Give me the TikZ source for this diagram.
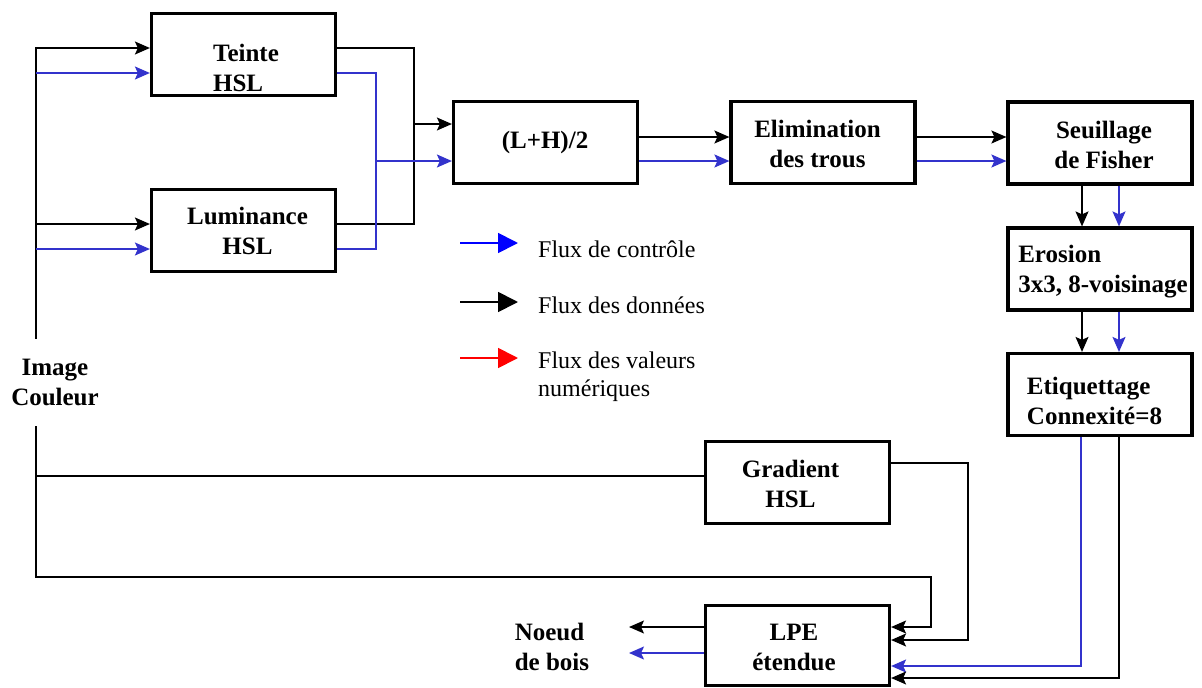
\documentclass[tikz,border=0pt]{standalone}
\usepackage{fontspec}
\setmainfont{Liberation Serif}
\usetikzlibrary{arrows.meta}
\definecolor{cblue}{RGB}{51,51,204}
\begin{document}
\begin{tikzpicture}[x=1pt,y=-1pt,
  box/.style={draw, line width=3.2pt, minimum width=184pt, minimum height=82pt, inner sep=0pt},
  btxt/.style={font=\bfseries\fontsize{25}{30}\selectfont, inner sep=0pt, align=center},
  ltxt/.style={font=\fontsize{24}{28}\selectfont, inner sep=0pt, align=left},
  dline/.style={line width=1.3pt, black},
  cline/.style={line width=1.5pt, cblue},
  dflow/.style={dline, -{Stealth[length=15pt,width=13pt,inset=3pt]}},
  cflow/.style={cline, -{Stealth[length=15pt,width=13pt,inset=3pt]}},
  leg/.style={line width=1.8pt, -{Triangle[length=20pt,width=20pt]}}
]
\useasboundingbox (0,0) rectangle (1202,688);
\coordinate (bus) at (36,0);

% boxes
\node[box] (teinte) at (243.5,54.5) {};
\node[box] (lumin)  at (243.5,230.5) {};
\node[box] (lh)     at (545.5,142.5) {};
\node[box] (elim)   at (823,142.5) {};
\node[box] (seuil)  at (1100,143) {};
\node[box] (eros)   at (1100,269) {};
\node[box] (etiq)   at (1100,394.5) {};
\node[box] (grad)   at (797.5,482.5) {};
\node[box, minimum height=80pt] (lpe) at (797.5,645.5) {};

% box texts
\node[btxt, align=left] (teinteT) at (246,67.5) {Teinte\\HSL};
\node[btxt] (luminT) at (247.5,231) {Luminance\\HSL};
\node[btxt] (lhT) at (545,142) {(L+H)/2};
\node[btxt] (elimT) at (817.5,143.5) {Elimination\\des trous};
\node[btxt] (seuilT) at (1104,144.5) {Seuillage\\de Fisher};
\node[btxt, align=left] (erosT) at (1103,271.5) {Erosion\\3x3, 8-voisinage};
\node[btxt, align=left] (etiqT) at (1094.5,400.5) {Etiquettage\\Connexité=8};
\node[btxt] (gradT) at (790.5,483.5) {Gradient\\HSL};
\node[btxt] (lpeT) at (794,647.5) {LPE\\étendue};

% free labels
\node[btxt, minimum height=87pt] (img) at (55,382.5) {Image\\Couleur};
\node[btxt, align=left] (noeud) at (552,646.5) {Noeud\\de bois};
\coordinate (outA) at (629,627);
\coordinate (outB) at (629,653);

% inputs from the image
\draw[dflow] (img.north -| bus) -- (bus |- 0,48) -- (teinte.west |- 0,48);
\draw[cflow] (bus |- 0,73) -- (teinte.west |- 0,73);
\draw[dflow] (bus |- 0,224) -- (lumin.west |- 0,224);
\draw[cflow] (bus |- 0,249) -- (lumin.west |- 0,249);
\draw[dflow] (img.south -| bus) -- (bus |- 0,577) -- (931,577) -- (931,627) -- (lpe.east |- 0,627);
\draw[dline] (bus |- 0,476) -- (grad.west |- 0,476);

% teinte / luminance -> (L+H)/2
\draw[dline] (teinte.east |- 0,48) -- (414,48) -- (414,224) -- (lumin.east |- 0,224);
\draw[dflow] (414,124) -- (lh.west |- 0,124);
\draw[cline] (teinte.east |- 0,73) -- (376,73) -- (376,249) -- (lumin.east |- 0,249);
\draw[cflow] (376,161) -- (lh.west |- 0,161);

% chain
\draw[dflow] (lh.east |- 0,137) -- (elim.west |- 0,137);
\draw[cflow] (lh.east |- 0,161) -- (elim.west |- 0,161);
\draw[dflow] (elim.east |- 0,137) -- (seuil.west |- 0,137);
\draw[cflow] (elim.east |- 0,161) -- (seuil.west |- 0,161);
\draw[dflow] (seuil.south -| 1082,0) -- (eros.north -| 1082,0);
\draw[cflow] (seuil.south -| 1119,0) -- (eros.north -| 1119,0);
\draw[dflow] (eros.south -| 1082,0) -- (etiq.north -| 1082,0);
\draw[cflow] (eros.south -| 1119,0) -- (etiq.north -| 1119,0);

% into LPE
\draw[dflow] (grad.east |- 0,463) -- (968,463) -- (968,640) -- (lpe.east |- 0,640);
\draw[cflow] (etiq.south -| 1081,0) -- (1081,666) -- (lpe.east |- 0,666);
\draw[dflow] (etiq.south -| 1119,0) -- (1119,678) -- (lpe.east |- 0,678);

% outputs
\draw[dflow] (lpe.west |- 0,627) -- (outA);
\draw[cflow] (lpe.west |- 0,653) -- (outB);

% legend
\coordinate (l1a) at (460,243); \coordinate (l1b) at (518,243);
\coordinate (l2a) at (460,302); \coordinate (l2b) at (518,302);
\coordinate (l3a) at (460,358); \coordinate (l3b) at (518,358);
\draw[leg, blue] (l1a) -- (l1b);
\draw[leg, black] (l2a) -- (l2b);
\draw[leg, red] (l3a) -- (l3b);
\node[ltxt, anchor=base west] (l1t) at (538,257) {Flux de contrôle};
\node[ltxt, anchor=base west] (l2t) at (538,313) {Flux des données};
\node[ltxt, anchor=north west] (l3t) at (538,351.5) {Flux des valeurs\\numériques};
\end{tikzpicture}
\end{document}
